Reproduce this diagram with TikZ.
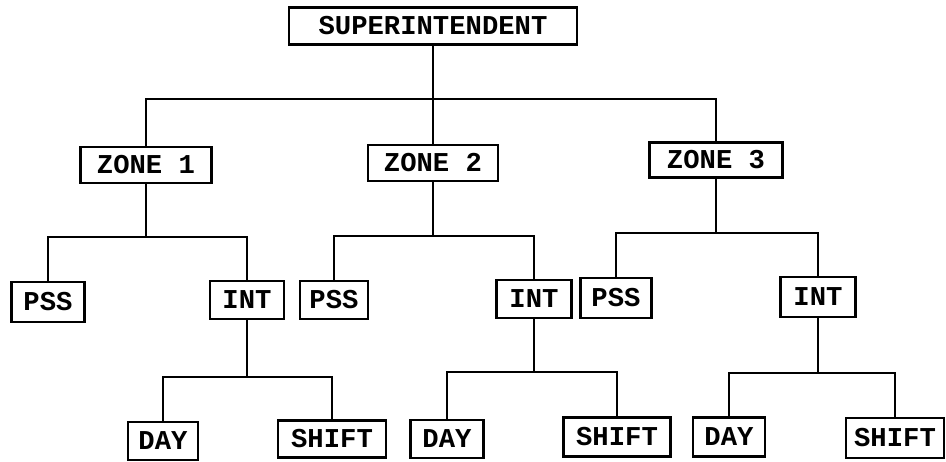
\documentclass[tikz,border=0pt]{standalone}
\usepackage{fontspec}
\setmonofont{Liberation Mono}
\usepackage{tikz}
\tikzstyle{block} = [rectangle, draw, line width=1.6pt, text centered, inner sep=0pt, minimum height=0.76cm, font=\ttfamily\bfseries\fontsize{15.5}{16}\selectfont]
\tikzstyle{wire} = [line width=1.5pt]

\begin{document}
\begin{tikzpicture}[x=0.02cm, y=-0.02cm]
\useasboundingbox (0,0) rectangle (946,462);
% top level
\node[block, minimum width=5.76cm, minimum height=0.74cm] (sup) at (433,26) {SUPERINTENDENT};
\node[block, minimum width=2.62cm, minimum height=0.72cm] (z1) at (146,165) {ZONE 1};
\node[block, minimum width=2.6cm, minimum height=0.72cm] (z2) at (433,163) {ZONE 2};
\node[block, minimum width=2.66cm, minimum height=0.7cm] (z3) at (716,160) {ZONE 3};
% second level
\node[block, minimum width=1.46cm, minimum height=0.8cm] (p1) at (48,302) {PSS};
\node[block, minimum width=1.48cm] (i1) at (247,300) {INT};
\node[block, minimum width=1.36cm] (p2) at (334,300) {PSS};
\node[block, minimum width=1.5cm] (i2) at (534,299) {INT};
\node[block, minimum width=1.42cm, minimum height=0.8cm] (p3) at (616,298) {PSS};
\node[block, minimum width=1.5cm, minimum height=0.8cm] (i3) at (818,297) {INT};
% third level
\node[block, minimum width=1.4cm] (d1) at (163,441) {DAY};
\node[block, minimum width=2.16cm, minimum height=0.74cm] (s1) at (332,439) {SHIFT};
\node[block, minimum width=1.46cm] (d2) at (447,439) {DAY};
\node[block, minimum width=2.14cm, minimum height=0.78cm] (s2) at (617,437) {SHIFT};
\node[block, minimum width=1.44cm, minimum height=0.78cm] (d3) at (729,437) {DAY};
\node[block, minimum width=1.96cm, minimum height=0.8cm] (s3) at (895,438) {SHIFT};

% connectors
\coordinate (b0) at (433,99);
\draw[wire] (sup) -- (z2);
\draw[wire] (z1.north) |- (b0) -| (z3.north);

\coordinate (b1) at (146,237);
\draw[wire] (z1) -- (b1);
\draw[wire] (p1.north) |- (b1) -| (i1.north);
\coordinate (b2) at (433,236);
\draw[wire] (z2) -- (b2);
\draw[wire] (p2.north) |- (b2) -| (i2.north);
\coordinate (b3) at (716,233);
\draw[wire] (z3) -- (b3);
\draw[wire] (p3.north) |- (b3) -| (i3.north);

\coordinate (c1) at (247,377);
\draw[wire] (i1) -- (c1);
\draw[wire] (d1.north) |- (c1) -| (s1.north);
\coordinate (c2) at (534,372);
\draw[wire] (i2) -- (c2);
\draw[wire] (d2.north) |- (c2) -| (s2.north);
\coordinate (c3) at (818,373);
\draw[wire] (i3) -- (c3);
\draw[wire] (d3.north) |- (c3) -| (s3.north);
\end{tikzpicture}
\end{document}
